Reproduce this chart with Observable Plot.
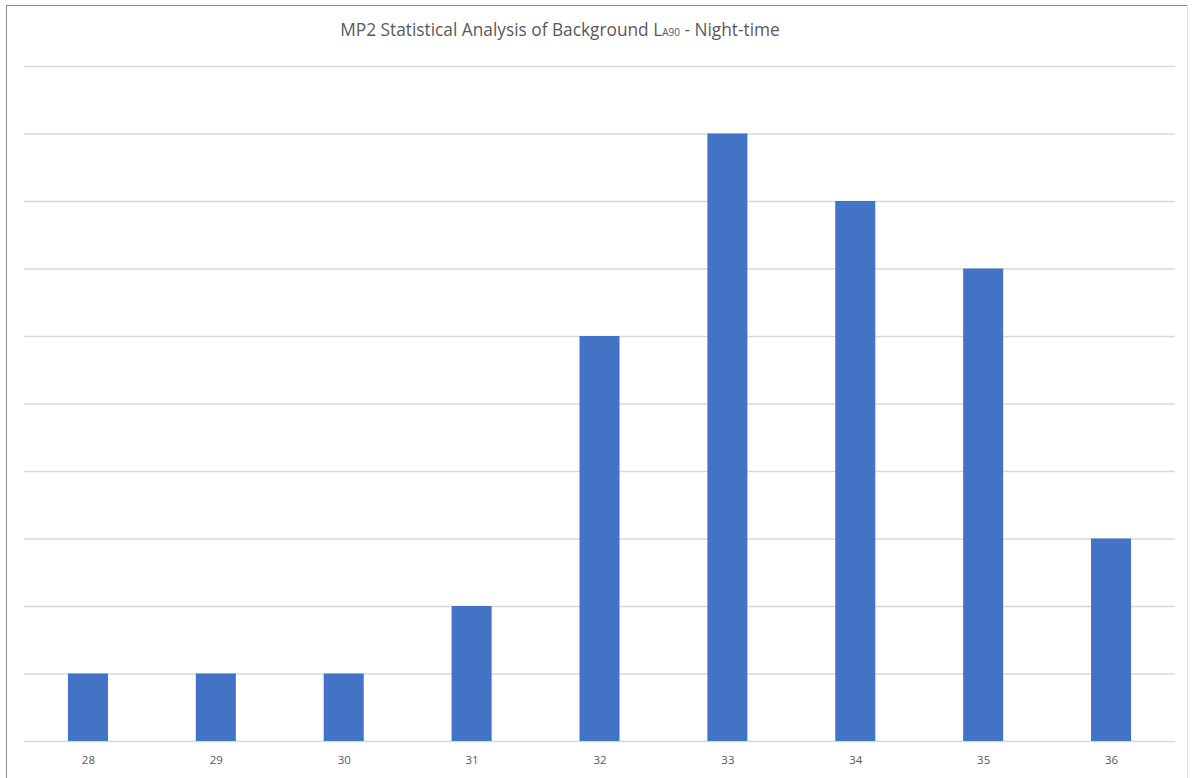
<!DOCTYPE html>
<html>
<head>
<meta charset="utf-8">
<script src="https://cdn.jsdelivr.net/npm/d3@7"></script>
<script src="https://cdn.jsdelivr.net/npm/@observablehq/plot@0.6"></script>
<style>
  html, body { margin: 0; padding: 0; background: #fff; }
  #wrap { position: relative; width: 1192px; height: 778px; overflow: hidden; font-family: "Open Sans", "Liberation Sans", sans-serif; }
  #frame { position: absolute; left: 6px; top: 5px; width: 1182px; height: 800px;
           border-top: 1.5px solid #8c8c8c; border-left: 1.5px solid #8c8c8c; border-right: 1px solid #e4e4e4; box-sizing: border-box; }
  #title { position: absolute; left: 0; width: 1120px; top: 18px; text-align: center;
           font-size: 17.3px; color: #595959; white-space: nowrap; }
  #title sub { font-size: 10px; vertical-align: baseline; position: relative; top: 0; }
  #chart { position: absolute; left: 0; top: 0; }
</style>
</head>
<body>
<div id="wrap">
  <div id="frame"></div>
  <div id="chart"></div>
  <div id="title">MP2 Statistical Analysis of Background L<sub>A90</sub> - Night-time</div>
</div>
<script>
// Background LA90 level (dB) and number of night-time periods at each level
const levels = ["28", "29", "30", "31", "32", "33", "34", "35", "36"];
const counts = [1, 1, 1, 2, 6, 9, 8, 7, 3];
const gridTicks = [0, 1, 2, 3, 4, 5, 6, 7, 8, 9, 10];

const data = levels.map((level, i) => ({level, count: counts[i]}));

const chart = Plot.plot({
  width: 1192,
  height: 778,
  marginLeft: 24,
  marginRight: 17,
  marginTop: 66,
  marginBottom: 37,
  style: {fontFamily: "'Open Sans', 'Liberation Sans', sans-serif", background: "transparent"},
  x: {domain: levels, paddingInner: 0.687, paddingOuter: 0.3435, round: false, label: null},
  y: {domain: [0, 10], label: null, axis: null},
  marks: [
    Plot.ruleY(gridTicks, {stroke: "#d9d9d9", strokeWidth: 1.5}),
    Plot.barY(data, {x: "level", y: "count", fill: "#4472c4"}),
    Plot.axisX({tickSize: 0, tickPadding: 14, fontSize: 11.5, color: "#595959", label: null})
  ]
});
document.getElementById("chart").appendChild(chart);
</script>
</body>
</html>
